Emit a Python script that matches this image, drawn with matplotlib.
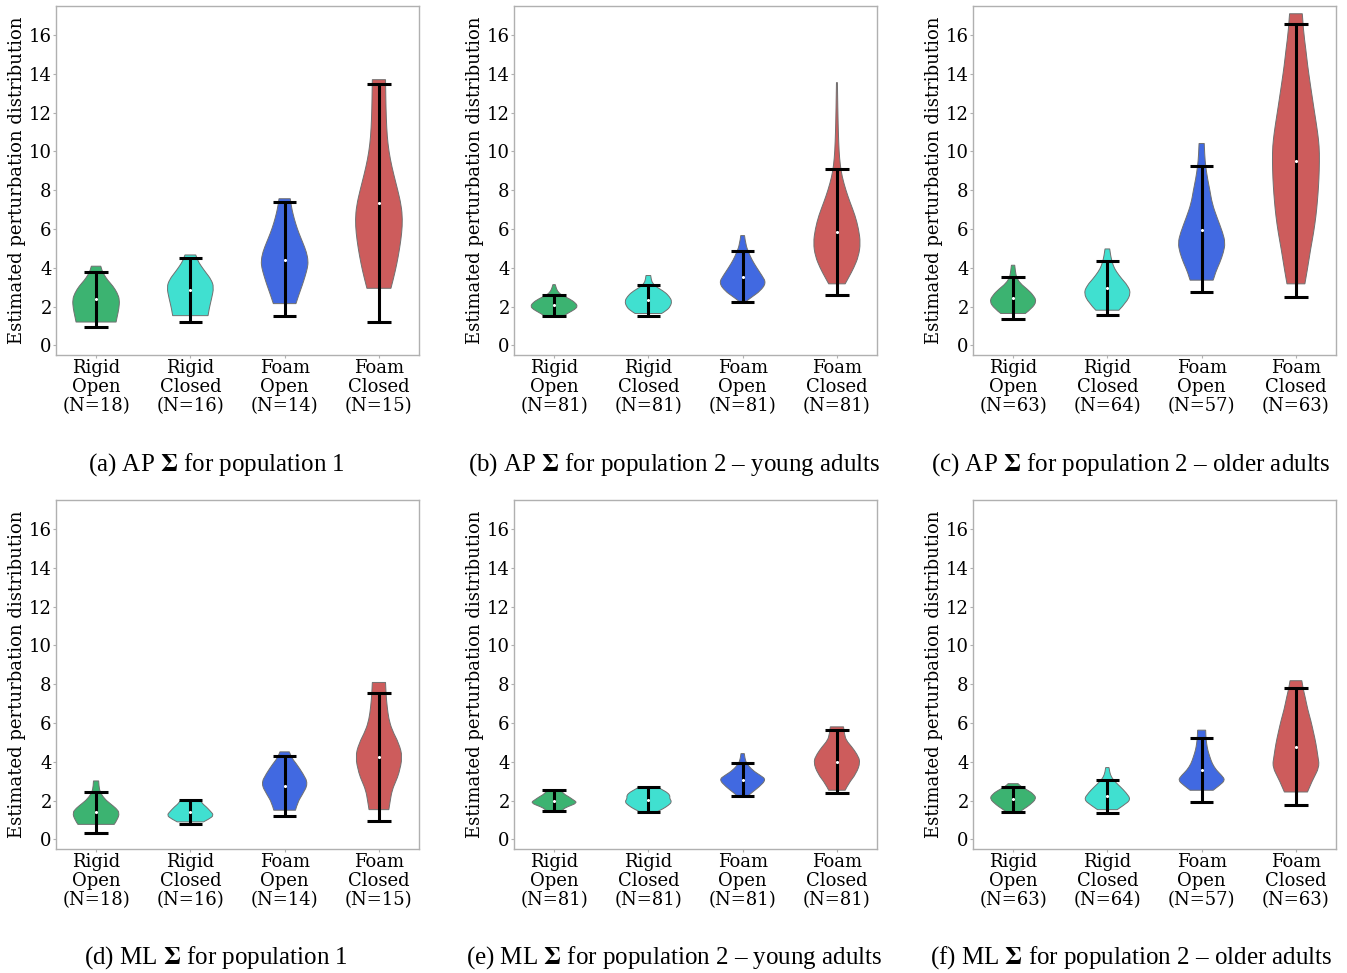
import matplotlib
matplotlib.use("Agg")
import matplotlib.pyplot as plt
from matplotlib.path import Path
from matplotlib.patches import PathPatch

plt.rcParams['mathtext.fontset'] = 'stix'

# ---------------- data ----------------
cat_names = ["Rigid\nOpen", "Rigid\nClosed", "Foam\nOpen", "Foam\nClosed"]
colors = ["#3CB371", "#40E0D0", "#4169E1", "#CD5C5C"]

n_pop1 = [18, 16, 14, 15]
n_young = [81, 81, 81, 81]
n_old = [63, 64, 57, 63]

captions = [
    "(a) AP $\\mathbf{\\Sigma}$ for population 1",
    "(b) AP $\\mathbf{\\Sigma}$ for population 2 \u2013 young adults",
    "(c) AP $\\mathbf{\\Sigma}$ for population 2 \u2013 older adults",
    "(d) ML $\\mathbf{\\Sigma}$ for population 1",
    "(e) ML $\\mathbf{\\Sigma}$ for population 2 \u2013 young adults",
    "(f) ML $\\mathbf{\\Sigma}$ for population 2 \u2013 older adults",
]

# violin outlines: value levels and relative half-width (1 = widest)
a_prof_y = [
    [1.2, 1.5, 1.9, 2.35, 2.7, 3.05, 3.35, 3.6, 3.85, 4.08],
    [1.53, 1.9, 2.4, 3.0, 3.4, 3.75, 4.1, 4.4, 4.66],
    [2.15, 2.6, 3.1, 3.6, 4.0, 4.34, 4.8, 5.3, 5.8, 6.3, 6.8, 7.2, 7.56],
    [2.94, 3.5, 4.2, 5.0, 5.8, 6.5, 7.2, 8.0, 8.8, 9.6, 10.4, 11.2, 12.2, 13.0, 13.7],
]
a_prof_w = [
    [0.85, 0.9, 0.97, 1.0, 0.9, 0.72, 0.5, 0.36, 0.25, 0.2],
    [0.75, 0.8, 0.9, 1.0, 0.88, 0.66, 0.45, 0.3, 0.23],
    [0.48, 0.6, 0.75, 0.88, 0.97, 1.0, 0.93, 0.77, 0.6, 0.46, 0.35, 0.28, 0.24],
    [0.51, 0.63, 0.76, 0.88, 0.97, 1.0, 0.95, 0.8, 0.63, 0.48, 0.38, 0.33, 0.3, 0.29, 0.28],
]
a_lo = [0.95, 1.22, 1.50, 1.2]
a_hi = [3.80, 4.49, 7.38, 13.49]
a_med = [2.39, 2.84, 4.42, 7.33]

b_prof_y = [
    [1.53, 1.7, 1.85, 2.01, 2.2, 2.4, 2.6, 2.8, 3.0, 3.13],
    [1.64, 1.8, 2.0, 2.27, 2.5, 2.75, 3.0, 3.2, 3.4, 3.6],
    [2.27, 2.5, 2.8, 3.22, 3.6, 4.0, 4.4, 4.8, 5.2, 5.66],
    [3.17, 3.5, 4.0, 4.6, 5.28, 6.0, 6.7, 7.4, 8.0, 8.7, 9.3, 10.0, 11.0, 12.0, 13.55],
]
b_prof_w = [
    [0.42, 0.65, 0.88, 1.0, 0.9, 0.65, 0.3, 0.14, 0.08, 0.05],
    [0.56, 0.78, 0.93, 1.0, 0.9, 0.7, 0.35, 0.18, 0.12, 0.1],
    [0.15, 0.4, 0.75, 1.0, 0.82, 0.6, 0.4, 0.25, 0.13, 0.08],
    [0.35, 0.5, 0.72, 0.92, 1.0, 0.92, 0.77, 0.55, 0.38, 0.22, 0.14, 0.09, 0.06, 0.04, 0.02],
]
b_lo = [1.53, 1.5, 2.24, 2.62]
b_hi = [2.62, 3.1, 4.85, 9.07]
b_med = [2.1, 2.32, 3.53, 5.85]

c_prof_y = [
    [1.64, 1.9, 2.27, 2.6, 2.9, 3.2, 3.5, 3.8, 4.13],
    [1.81, 2.2, 2.7, 3.1, 3.4, 3.8, 4.1, 4.5, 4.8, 4.97],
    [3.36, 3.8, 4.25, 4.8, 5.28, 5.8, 6.6, 7.3, 8.0, 8.6, 9.24, 9.8, 10.41],
    [3.17, 4.0, 4.94, 5.8, 6.66, 7.4, 8.2, 9.0, 9.93, 10.62, 11.4, 12.17, 12.9, 13.55, 14.4, 15.27, 16.2, 17.1],
]
c_prof_w = [
    [0.52, 0.8, 1.0, 0.85, 0.6, 0.3, 0.15, 0.1, 0.07],
    [0.49, 0.8, 1.0, 0.85, 0.63, 0.38, 0.25, 0.16, 0.12, 0.1],
    [0.49, 0.6, 0.77, 0.93, 1.0, 0.9, 0.65, 0.45, 0.35, 0.25, 0.17, 0.13, 0.11],
    [0.38, 0.5, 0.62, 0.75, 0.85, 0.91, 0.96, 0.99, 1.0, 0.96, 0.87, 0.77, 0.68, 0.6, 0.5, 0.42, 0.32, 0.27],
]
c_lo = [1.38, 1.58, 2.75, 2.5]
c_hi = [3.51, 4.34, 9.24, 16.56]
c_med = [2.44, 2.96, 5.97, 9.52]

d_prof_y = [
    [0.77, 1.0, 1.36, 1.6, 1.84, 2.1, 2.44, 2.75, 3.01],
    [0.9, 1.05, 1.24, 1.45, 1.67, 1.85, 2.05],
    [1.5, 1.9, 2.3, 2.87, 3.39, 3.91, 4.2, 4.51],
    [1.53, 2.0, 2.53, 3.0, 3.39, 4.25, 4.94, 5.63, 6.2, 6.83, 7.5, 8.09],
]
d_prof_w = [
    [0.77, 0.9, 1.0, 0.85, 0.6, 0.35, 0.17, 0.12, 0.11],
    [0.56, 0.8, 1.0, 0.85, 0.68, 0.5, 0.39],
    [0.46, 0.55, 0.75, 1.0, 0.78, 0.49, 0.3, 0.2],
    [0.42, 0.48, 0.56, 0.72, 0.85, 1.0, 0.85, 0.56, 0.42, 0.35, 0.3, 0.28],
]
d_lo = [0.34, 0.81, 1.2, 0.93]
d_hi = [2.43, 2.01, 4.3, 7.56]
d_med = [1.39, 1.41, 2.75, 4.25]

e_prof_y = [
    [1.41, 1.55, 1.67, 1.88, 2.05, 2.19, 2.35, 2.53],
    [1.41, 1.5, 1.58, 1.75, 1.93, 2.1, 2.27, 2.44, 2.58, 2.7],
    [2.22, 2.44, 2.7, 3.08, 3.3, 3.56, 3.91, 4.15, 4.42],
    [2.53, 2.87, 3.39, 3.99, 4.4, 4.77, 5.1, 5.4, 5.8],
]
e_prof_w = [
    [0.28, 0.38, 0.55, 1.0, 0.8, 0.63, 0.4, 0.28],
    [0.35, 0.5, 0.63, 0.85, 1.0, 0.9, 0.92, 0.77, 0.55, 0.39],
    [0.21, 0.42, 0.7, 1.0, 0.75, 0.42, 0.17, 0.1, 0.07],
    [0.35, 0.49, 0.82, 1.0, 0.85, 0.63, 0.4, 0.32, 0.28],
]
e_lo = [1.46, 1.41, 2.22, 2.41]
e_hi = [2.53, 2.7, 3.94, 5.63]
e_med = [1.98, 2.05, 3.08, 3.99]

f_prof_y = [
    [1.41, 1.6, 1.76, 2.1, 2.35, 2.53, 2.7, 2.87],
    [1.53, 1.76, 2.05, 2.4, 2.7, 3.0, 3.22, 3.45, 3.7],
    [2.53, 2.79, 3.05, 3.3, 3.56, 3.9, 4.25, 4.6, 4.94, 5.3, 5.63],
    [2.44, 3.05, 3.73, 4.3, 4.94, 5.5, 6.14, 6.7, 7.35, 7.8, 8.18],
]
f_prof_w = [
    [0.28, 0.5, 0.7, 1.0, 0.85, 0.63, 0.35, 0.21],
    [0.42, 0.7, 1.0, 0.8, 0.56, 0.3, 0.17, 0.1, 0.07],
    [0.49, 0.77, 1.0, 0.85, 0.63, 0.45, 0.35, 0.26, 0.21, 0.18, 0.17],
    [0.49, 0.7, 1.0, 0.93, 0.85, 0.75, 0.63, 0.5, 0.39, 0.3, 0.25],
]
f_lo = [1.41, 1.38, 1.93, 1.76]
f_hi = [2.7, 3.05, 5.2, 7.81]
f_med = [2.07, 2.24, 3.56, 4.77]

y_ticks = [0, 2, 4, 6, 8, 10, 12, 14, 16]

panels = [
    (a_prof_y, a_prof_w, a_lo, a_hi, a_med, n_pop1),
    (b_prof_y, b_prof_w, b_lo, b_hi, b_med, n_young),
    (c_prof_y, c_prof_w, c_lo, c_hi, c_med, n_old),
    (d_prof_y, d_prof_w, d_lo, d_hi, d_med, n_pop1),
    (e_prof_y, e_prof_w, e_lo, e_hi, e_med, n_young),
    (f_prof_y, f_prof_w, f_lo, f_hi, f_med, n_old),
]

# ---------------- drawing ----------------
HALF = 0.25   # half of the violin width (widths=0.5)
CAP = 0.125   # half cap width


def smooth_side(pts):
    """quadratic bezier through midpoints of knot list"""
    verts, codes = [], []
    n = len(pts)
    if n <= 2:
        for p in pts[1:]:
            verts.append(p); codes.append(Path.LINETO)
        return verts, codes
    for i in range(1, n - 1):
        if i < n - 2:
            end = ((pts[i][0] + pts[i + 1][0]) / 2, (pts[i][1] + pts[i + 1][1]) / 2)
        else:
            end = pts[n - 1]
        verts += [pts[i], end]
        codes += [Path.CURVE3, Path.CURVE3]
    return verts, codes


def violin_path(x, ys, ws):
    right = [(x + HALF * w, y) for y, w in zip(ys, ws)]
    left = [(x - HALF * w, y) for y, w in zip(ys, ws)][::-1]
    verts = [(x - HALF * ws[0], ys[0]), right[0]]
    codes = [Path.MOVETO, Path.LINETO]
    v, c = smooth_side(right)
    verts += v; codes += c
    verts.append(left[0]); codes.append(Path.LINETO)
    v, c = smooth_side(left)
    verts += v; codes += c
    verts.append(verts[0]); codes.append(Path.CLOSEPOLY)
    return Path(verts, codes)


fig = plt.figure(figsize=(13.47, 9.73), dpi=100)
W, H = 1347.0, 973.0
ax_lefts = [56, 514, 973]
ax_tops = [6, 500]
ax_w, ax_h = 363, 349
cap_x = [216, 674, 1131]
cap_y = [465, 958]

tick_font = dict(family="DejaVu Serif", size=13)

for idx, (pys, pws, lo, hi, med, ns) in enumerate(panels):
    r, c = divmod(idx, 3)
    ax = fig.add_axes([ax_lefts[c] / W, 1 - (ax_tops[r] + ax_h) / H, ax_w / W, ax_h / H])
    positions = [1, 2, 3, 4]
    for k, x in enumerate(positions):
        patch = PathPatch(violin_path(x, pys[k], pws[k]), facecolor=colors[k],
                          edgecolor="#707070", linewidth=0.7, zorder=2)
        ax.add_patch(patch)
    ax.vlines(positions, lo, hi, color="black", linewidth=2.2, zorder=3)
    ax.hlines(lo, [p - CAP for p in positions], [p + CAP for p in positions],
              color="black", linewidth=2.2, zorder=3)
    ax.hlines(hi, [p - CAP for p in positions], [p + CAP for p in positions],
              color="black", linewidth=2.2, zorder=3)
    ax.scatter(positions, med, s=5, color="white", zorder=4, linewidths=0)

    ax.set_xlim(0.575, 4.425)
    ax.set_ylim(-0.5, 17.5)
    ax.set_yticks(y_ticks)
    ax.set_yticklabels([str(t) for t in y_ticks], **tick_font)
    ax.set_xticks(positions)
    ax.set_xticklabels([f"{cat}\n(N={n})" for cat, n in zip(cat_names, ns)],
                       linespacing=1.08, **tick_font)
    ax.tick_params(axis="both", length=2.5, width=0.8, color="#b0b0b0", pad=0.6)
    for sp in ax.spines.values():
        sp.set_color("#b0b0b0")
        sp.set_linewidth(1.0)
    ax.set_ylabel("Estimated perturbation distribution", family="DejaVu Serif",
                  fontsize=13)
    ax.yaxis.set_label_coords(-0.082, 0.5)

    fig.text(cap_x[c] / W, 1 - cap_y[r] / H, captions[idx], ha="center", va="center",
             family="Liberation Serif", fontsize=18)

fig.savefig("out.png", dpi=100)
